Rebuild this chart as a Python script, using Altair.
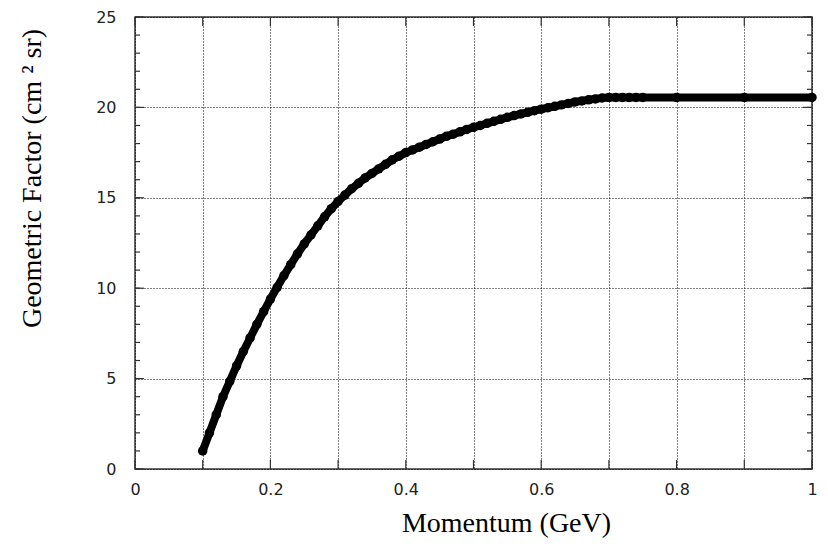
import altair as alt
import pandas as pd

# Momentum (GeV) and geometric factor (cm^2 sr)
momentum = [0.10, 0.11, 0.12, 0.13, 0.14, 0.15, 0.16, 0.17, 0.18, 0.19,
            0.20, 0.21, 0.22, 0.23, 0.24, 0.25, 0.26, 0.27, 0.28, 0.29,
            0.30, 0.31, 0.32, 0.33, 0.34, 0.35, 0.36, 0.37, 0.38, 0.39,
            0.40, 0.41, 0.42, 0.43, 0.44, 0.45, 0.46, 0.47, 0.48, 0.49,
            0.50, 0.51, 0.52, 0.53, 0.54, 0.55, 0.56, 0.57, 0.58, 0.59,
            0.60, 0.61, 0.62, 0.63, 0.64, 0.65, 0.66, 0.67, 0.68, 0.69,
            0.70, 0.71, 0.72, 0.73, 0.74, 0.75, 0.80, 0.90, 1.00]
gfactor = [1.0, 2.0, 3.0, 4.0, 4.85, 5.7, 6.5, 7.25, 8.0, 8.7,
           9.4, 10.05, 10.7, 11.3, 11.9, 12.45, 12.95, 13.45, 13.95, 14.4,
           14.8, 15.15, 15.5, 15.8, 16.1, 16.35, 16.6, 16.85, 17.1, 17.3,
           17.5, 17.65, 17.8, 17.95, 18.1, 18.25, 18.4, 18.52, 18.65, 18.78,
           18.9, 19.0, 19.12, 19.23, 19.34, 19.45, 19.55, 19.64, 19.73, 19.82,
           19.9, 19.98, 20.06, 20.14, 20.22, 20.3, 20.36, 20.42, 20.47, 20.52,
           20.55, 20.55, 20.55, 20.55, 20.55, 20.55, 20.55, 20.55, 20.55]

x_ticks = [0.0, 0.1, 0.2, 0.3, 0.4, 0.5, 0.6, 0.7, 0.8, 0.9, 1.0]
y_major = [0, 5, 10, 15, 20, 25]
y_minor = [0, 1, 2, 3, 4, 5, 6, 7, 8, 9, 10, 11, 12, 13, 14, 15, 16, 17, 18,
           19, 20, 21, 22, 23, 24, 25]

W, H = 677, 452
PAD_L, PAD_T, PAD_R, PAD_B = 127, 9, 8, 69

df = pd.DataFrame({"p": momentum, "g": gfactor})
df_xt = pd.DataFrame({"p": x_ticks})
df_ymin = pd.DataFrame({"g": y_minor})
df_ymaj = pd.DataFrame({"g": y_major})

xs = alt.Scale(domain=[0, 1], nice=False, zero=False)
ys = alt.Scale(domain=[0, 25], nice=False, zero=False)

label_expr = ("round(datum.value*10) % 2 == 0 ? (datum.value == 0 ? '0' : "
              "(datum.value == 1 ? '1' : format(datum.value, '.1f'))) : ''")

x_axis = alt.Axis(values=x_ticks, labelExpr=label_expr, title="Momentum (GeV)",
                  labelPadding=12, labelFlush=False, labelOverlap=False,
                  titleX=371, titleY=62, titleBaseline="alphabetic",
                  titleAlign="center")
y_axis = alt.Axis(values=y_major, format="d", title="Geometric Factor (cm ² sr)",
                  labelPadding=19, titleAngle=270, titleX=-103, titleY=161,
                  titleBaseline="middle", titleAlign="center")

line = alt.Chart(df).mark_line(color="black", strokeWidth=8, strokeJoin="round",
                               strokeCap="round").encode(
    x=alt.X("p:Q", scale=xs, axis=x_axis),
    y=alt.Y("g:Q", scale=ys, axis=y_axis),
)
pts = alt.Chart(df).mark_point(filled=True, size=90, color="black", opacity=1).encode(
    x=alt.X("p:Q", scale=xs),
    y=alt.Y("g:Q", scale=ys),
)

tick_color = "#333"
xt_bottom = alt.Chart(df_xt).mark_rule(color=tick_color, strokeWidth=1.2).encode(
    x=alt.X("p:Q", scale=xs), y=alt.value(H - 9), y2=alt.value(H))
xt_top = alt.Chart(df_xt).mark_rule(color=tick_color, strokeWidth=1.2).encode(
    x=alt.X("p:Q", scale=xs), y=alt.value(0), y2=alt.value(9))
ymin_left = alt.Chart(df_ymin).mark_rule(color=tick_color, strokeWidth=1.2).encode(
    y=alt.Y("g:Q", scale=ys), x=alt.value(0), x2=alt.value(5))
ymin_right = alt.Chart(df_ymin).mark_rule(color=tick_color, strokeWidth=1.2).encode(
    y=alt.Y("g:Q", scale=ys), x=alt.value(W - 5), x2=alt.value(W))
ymaj_left = alt.Chart(df_ymaj).mark_rule(color=tick_color, strokeWidth=1.2).encode(
    y=alt.Y("g:Q", scale=ys), x=alt.value(0), x2=alt.value(9))
ymaj_right = alt.Chart(df_ymaj).mark_rule(color=tick_color, strokeWidth=1.2).encode(
    y=alt.Y("g:Q", scale=ys), x=alt.value(W - 9), x2=alt.value(W))

chart = alt.layer(
    line, xt_bottom, xt_top, ymin_left, ymin_right, ymaj_left, ymaj_right, pts
).properties(
    width=W, height=H,
    autosize=alt.AutoSizeParams(type="none"),
    padding={"left": PAD_L, "top": PAD_T, "right": PAD_R, "bottom": PAD_B},
    background="white",
).configure_view(
    stroke="#333", strokeWidth=1.5
).configure_axis(
    domain=False, ticks=False, grid=True, gridDash=[1, 2], gridColor="#000",
    gridWidth=1, gridOpacity=1,
    labelFont="DejaVu Sans", labelFontSize=16, labelColor="#222",
    titleFont="Liberation Serif", titleFontSize=28, titleFontWeight="normal",
    titleColor="#000",
)

chart.save("out.html", embed_options={"renderer": "svg", "actions": False})
